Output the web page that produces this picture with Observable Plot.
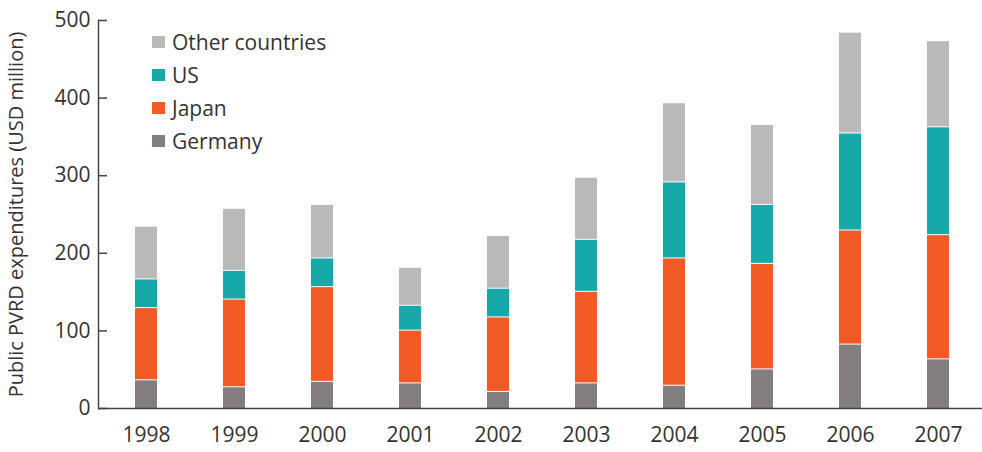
<!DOCTYPE html>
<html>
<head>
<meta charset="utf-8">
<script src="https://cdn.jsdelivr.net/npm/d3@7"></script>
<script src="https://cdn.jsdelivr.net/npm/@observablehq/plot@0.6"></script>
<style>
  html, body { margin: 0; padding: 0; background: #fff; }
  #wrap { position: relative; width: 982px; height: 452px; font-family: "Open Sans", sans-serif; }
  #legend { position: absolute; left: 152px; top: 25px; font-size: 21px; color: #333; }
  #legend .row { display: flex; align-items: center; height: 33px; }
  #legend .sw { width: 13px; height: 12px; margin-right: 7px; }
</style>
</head>
<body>
<div id="wrap"><div id="legend"></div></div>
<script>
const years = ["1998","1999","2000","2001","2002","2003","2004","2005","2006","2007"];
const germany = [37, 28, 35, 33, 22, 33, 30, 51, 83, 64];
const japan   = [93, 113, 122, 68, 96, 118, 164, 136, 147, 160];
const us      = [37, 37, 37, 32, 37, 67, 98, 76, 125, 139];
const other   = [68, 80, 69, 49, 68, 80, 102, 103, 130, 111];
const seriesNames = ["Germany", "Japan", "US", "Other countries"];
const seriesColors = ["#857e7f", "#f15a24", "#17a9a9", "#b9b9b9"];
const yTicks = [0, 100, 200, 300, 400, 500];
const yLabel = "Public PVRD expenditures (USD million)";

const seriesValues = [germany, japan, us, other];
const rows = [];
seriesNames.forEach((name, s) => {
  years.forEach((yr, i) => rows.push({year: yr, series: name, value: seriesValues[s][i]}));
});

const chart = Plot.plot({
  width: 982,
  height: 452,
  marginLeft: 98,
  marginRight: 0,
  marginTop: 20,
  marginBottom: 44,
  style: {fontFamily: "Open Sans", fontSize: "20px", color: "#333", background: "#fff"},
  x: {domain: years, paddingInner: 0.748, paddingOuter: 0.37, align: 0.53, label: null},
  y: {domain: [0, 500], label: null},
  color: {domain: seriesNames, range: seriesColors},
  marks: [
    Plot.barY(rows, Plot.stackY({order: seriesNames}, {x: "year", y: "value", fill: "series", insetTop: 1})),
    Plot.frame({anchor: "left", stroke: "#444", strokeWidth: 1.5}),
    Plot.ruleY([0], {stroke: "#444", strokeWidth: 1.5}),
    Plot.axisY(yTicks, {tickSize: -9, tickPadding: 17, stroke: "#444", strokeWidth: 1.5,
      label: null, fontSize: 21}),
    Plot.axisY([], {label: yLabel, labelAnchor: "center", labelArrow: "none", labelOffset: 90, fontSize: 20}),
    Plot.axisX({tickSize: 0, tickPadding: 19, label: null, fontSize: 21})
  ]
});
document.getElementById("wrap").prepend(chart);

const legend = document.getElementById("legend");
[3, 2, 1, 0].forEach(s => {
  const row = document.createElement("div");
  row.className = "row";
  const sw = document.createElement("span");
  sw.className = "sw";
  sw.style.background = seriesColors[s];
  const t = document.createElement("span");
  t.textContent = seriesNames[s];
  row.append(sw, t);
  legend.append(row);
});
</script>
</body>
</html>
